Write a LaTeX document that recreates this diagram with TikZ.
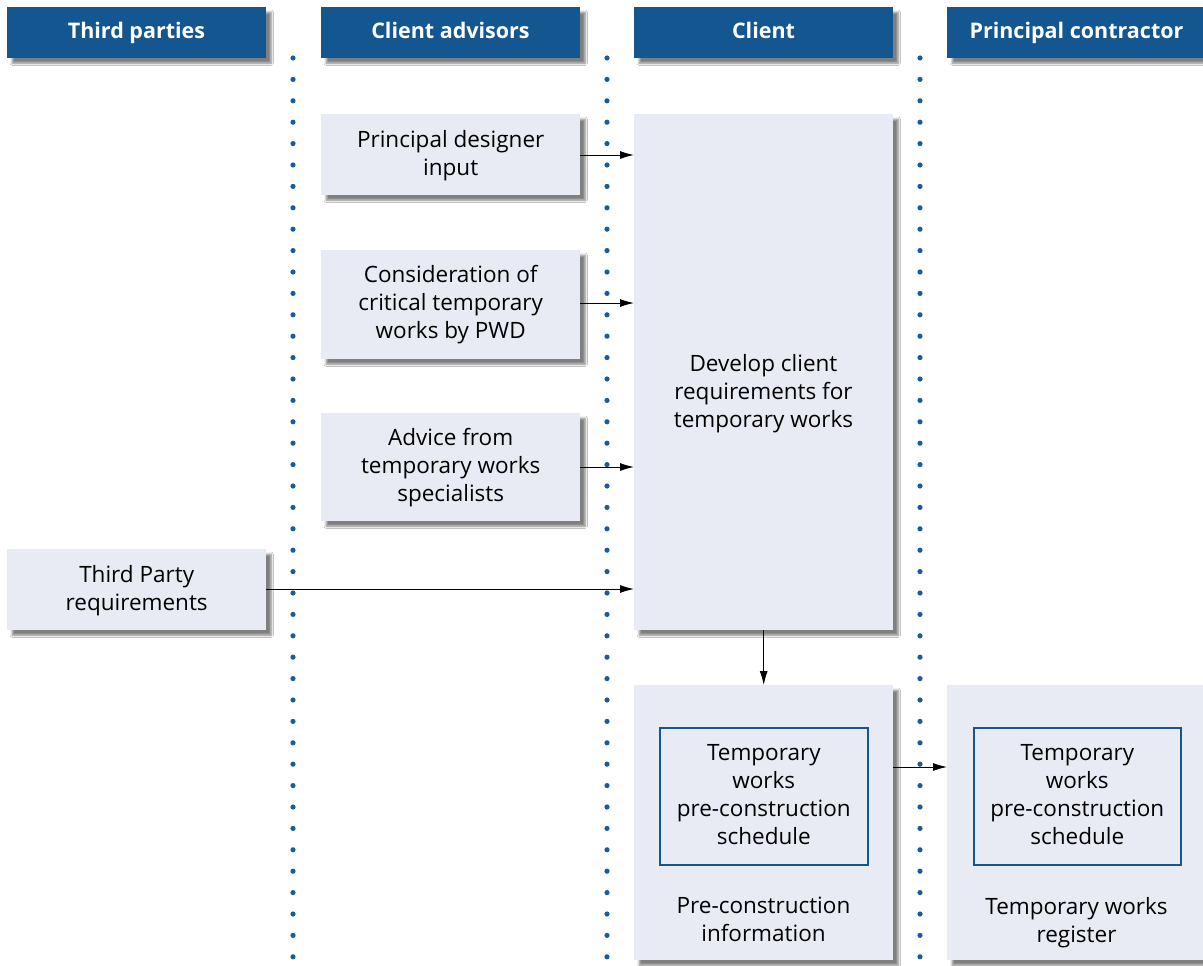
\documentclass[tikz,border=0pt]{standalone}
\usepackage{fontspec}
\setmainfont{Open Sans}
\usetikzlibrary{shadows.blur,arrows.meta}
\definecolor{hdrblue}{HTML}{14568F}
\definecolor{boxfill}{HTML}{E8EBF3}
\definecolor{dotblue}{HTML}{1A5C9A}
\tikzset{
  hdr/.style={fill=hdrblue,anchor=north west,inner sep=0pt,minimum width=259pt,minimum height=51pt,
    blur shadow={shadow xshift=5pt,shadow yshift=-5pt,shadow blur steps=6,shadow opacity=50}},
  hdrtxt/.style={text=white,font=\fontsize{21.5}{24}\selectfont\bfseries,anchor=base},
  pbox/.style={fill=boxfill,anchor=north west,inner sep=0pt,
    blur shadow={shadow xshift=5pt,shadow yshift=-5pt,shadow blur steps=6,shadow opacity=50}},
  txt/.style={align=center,font=\fontsize{22.5}{28}\selectfont,inner sep=0pt},
  inbox/.style={draw=hdrblue,line width=1.6pt,fill=boxfill,anchor=north west,inner sep=0pt},
  arr/.style={-{Latex[length=14pt,width=8pt]},line width=1pt}
}
\begin{document}
\begin{tikzpicture}[x=1pt,y=-1pt]
\useasboundingbox (0,0) rectangle (1203,966);
\fill[white] (0,0) rectangle (1203,966);
% dotted lines
\foreach \xx in {293,607,920}{
  \foreach \k in {0,...,42}{
    \fill[dotblue] (\xx,{58+\k*21.4}) circle (2.6pt);
  }
}
% headers
\node[hdr] (h1) at (7,7) {};
\node[hdrtxt] at (136.5,39) {Third parties};
\node[hdr] (h2) at (321,7) {};
\node[hdrtxt] at (450.5,39) {Client advisors};
\node[hdr] (h3) at (634,7) {};
\node[hdrtxt] at (763.5,39) {Client};
\node[hdr,minimum width=262pt] (h4) at (947,7) {};
\node[hdrtxt] at (1076.5,39) {Principal contractor};
% boxes
\node[pbox,minimum width=259pt,minimum height=81pt] (pd) at (321,114) {};
\node[txt] at ([yshift=-1pt]pd.center) {Principal designer\\input};
\node[pbox,minimum width=259pt,minimum height=109pt] (cons) at (321,250) {};
\node[txt] at (cons.center) {Consideration of\\critical temporary\\works by PWD};
\node[pbox,minimum width=259pt,minimum height=108pt] (adv) at (321,413) {};
\node[txt] at (adv.center) {Advice from\\temporary works\\specialists};
\node[pbox,minimum width=259pt,minimum height=81pt] (tp) at (7,549) {};
\node[txt] at ([yshift=-1pt]tp.center) {Third Party\\requirements};
\node[pbox,minimum width=259pt,minimum height=516pt] (dev) at (634,114) {};
\node[txt] at (763.5,394) {Develop client\\requirements for\\temporary works};
\node[pbox,minimum width=259pt,minimum height=275pt] (pci) at (634,685) {};
\node[txt] (pcit) at (763.5,919) {Pre-construction\\information};
\node[pbox,minimum width=262pt,minimum height=275pt] (reg) at (947,685) {};
\node[txt] (regt) at (1076.5,923) {Temporary works\\register};
\node[inbox,minimum width=208pt,minimum height=137pt] (s1) at (659,727) {};
\node[txt] at ([yshift=2pt]s1.center) {Temporary\\works\\pre-construction\\schedule};
\node[inbox,minimum width=207pt,minimum height=137pt] (s2) at (973,727) {};
\node[txt] at ([yshift=2pt]s2.center) {Temporary\\works\\pre-construction\\schedule};
% arrows
\draw[arr] (pd.east |- 0,155) -- (dev.west |- 0,155);
\draw[arr] (cons.east |- 0,303) -- (dev.west |- 0,303);
\draw[arr] (adv.east |- 0,467) -- (dev.west |- 0,467);
\draw[arr] (tp.east |- 0,589) -- (dev.west |- 0,589);
\draw[arr] (dev.south) -- (pci.north);
\draw[arr] (pci.east |- 0,767) -- (reg.west |- 0,767);
\end{tikzpicture}
\end{document}
